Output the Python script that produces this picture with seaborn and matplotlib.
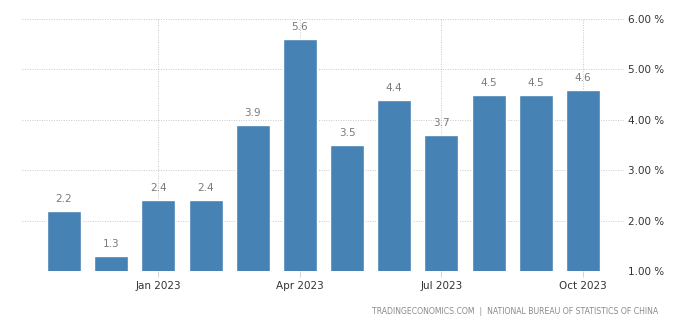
import matplotlib
matplotlib.use("Agg")
import matplotlib.pyplot as plt
import seaborn as sns
import pandas as pd

months = ["Nov 2022", "Dec 2022", "Jan 2023", "Feb 2023", "Mar 2023", "Apr 2023",
          "May 2023", "Jun 2023", "Jul 2023", "Aug 2023", "Sep 2023", "Oct 2023"]
values = [2.2, 1.3, 2.4, 2.4, 3.9, 5.6, 3.5, 4.4, 3.7, 4.5, 4.5, 4.6]
tick_months = ["Jan 2023", "Apr 2023", "Jul 2023", "Oct 2023"]
y_ticks = [1, 2, 3, 4, 5, 6]
source = "TRADINGECONOMICS.COM  |  NATIONAL BUREAU OF STATISTICS OF CHINA"

sns.set_theme(style="white")
plt.rcParams["font.family"] = ["DejaVu Sans"]

df = pd.DataFrame({"month": months, "value": values})

fig = plt.figure(figsize=(7.0, 3.26), dpi=100)
ax = fig.add_axes([22 / 700, 1 - 271 / 326, (624 - 22) / 700, (271 - 19) / 326])

sns.barplot(data=df, x="month", y="value", color="#4682B4", width=0.72,
            saturation=1, ax=ax, zorder=3)

ax.bar_label(ax.containers[0], labels=[f"{v:.1f}" for v in values],
             padding=5, color="#7a7a7a", fontsize=7.5)

ax.set_xlim(-0.89, 11.87)
ax.set_ylim(1, 6)

tick_pos = [months.index(m) for m in tick_months]
ax.set_xticks(tick_pos)
ax.set_xticklabels(tick_months, fontsize=7.5, color="#333333")
ax.set_yticks(y_ticks)
ax.set_yticklabels([f"{t:.2f} %" for t in y_ticks], fontsize=7.5, color="#333333")
ax.yaxis.tick_right()
ax.tick_params(axis="y", length=0, pad=3)
ax.tick_params(axis="x", length=4, width=0.6, color="#cccccc", pad=3, bottom=True)

ax.grid(True, axis="both", linestyle=(0, (1, 1.5)), color="#c8c8c8", linewidth=0.7, zorder=0)
ax.set_axisbelow(True)
for s in ax.spines.values():
    s.set_visible(False)
ax.set_xlabel("")
ax.set_ylabel("")

fig.text(658 / 700, 1 - 312 / 326, source, ha="right", va="center",
         fontsize=5.6, color="#8a8a8a")

fig.savefig("out.png", dpi=100)
